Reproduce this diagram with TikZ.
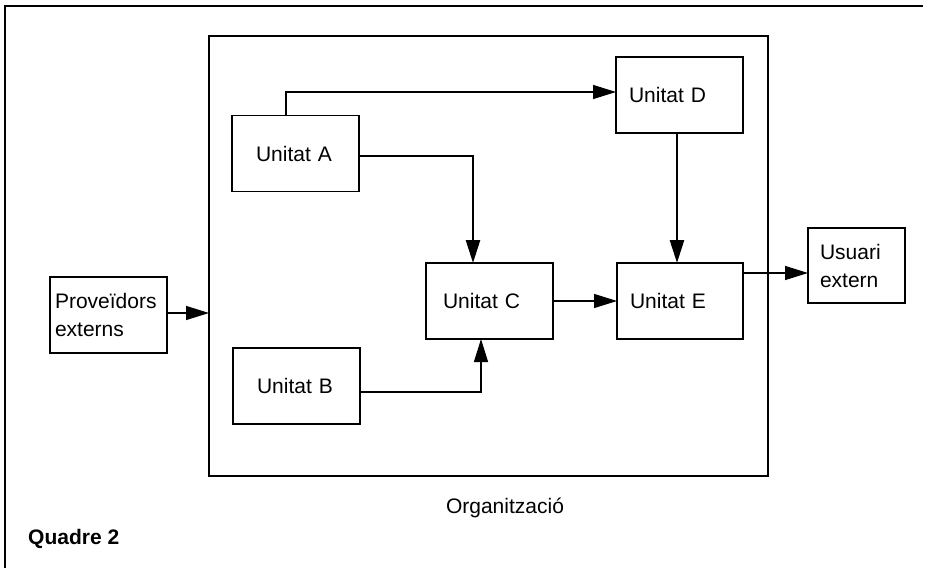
\documentclass[tikz,border=0pt]{standalone}
\usepackage{fontspec}
\setmainfont{Liberation Sans}
\usetikzlibrary{arrows.meta}
\begin{document}
\begin{tikzpicture}[x=1pt,y=-1pt,
  unit/.style={draw, line width=1.4pt, align=left, font=\fontsize{21}{28}\selectfont,
    inner ysep=0pt, outer sep=0pt, minimum height=76pt},
  lbl/.style={font=\fontsize{21}{28}\selectfont, inner sep=0pt},
  arr/.style={line width=1.3pt, -{Triangle[length=23pt,width=14pt]}},
  arrthick/.style={line width=2.6pt, -{Triangle[length=23pt,width=14pt]}}]
\useasboundingbox (0,0) rectangle (938,570);
% outer frame
\draw[line width=1.4pt] (923,6) -- (5,6) -- (5,568);
% organisation box
\node[draw, line width=1.8pt, minimum width=559pt, minimum height=440pt, inner sep=0pt, outer sep=0pt] (org) at (488.5,256) {};
% units
\node[unit, minimum width=127pt, inner xsep=24pt, text width=79pt] (A) at (295.5,153.5) {Unitat A};
\node[unit, minimum width=127pt, inner xsep=24pt, text width=79pt] (B) at (296.5,386) {Unitat B};
\node[unit, minimum width=127pt, inner xsep=17pt, text width=93pt] (C) at (489.5,301) {Unitat C};
\node[unit, minimum width=127pt, inner xsep=13pt, text width=101pt] (D) at (679.5,95) {Unitat D};
\node[unit, minimum width=126pt, inner xsep=13pt, text width=100pt] (E) at (680,301) {Unitat E};
\node[unit, minimum width=117pt, inner xsep=5pt, text width=107pt] (P) at (108.5,315) {Proveïdors\\externs};
\node[unit, minimum width=97pt, minimum height=75pt, inner xsep=12pt, text width=73pt] (U) at (856.5,265.5) {Usuari\\extern\\[-12pt]};
% labels
\node[lbl] (orglbl) at (505,508) {Organització};
\node[lbl, anchor=west, font=\fontsize{21}{28}\selectfont\bfseries] (q2) at (28,539) {Quadre 2};
% connectors
\draw[arr] ([xshift=54pt]A.north west) |- ([yshift=3pt]D.west);
\draw[arrthick] ([yshift=-2.5pt]A.east) -| ([xshift=-16.5pt]C.north);
\draw[arr] ([yshift=-6pt]B.east) -| ([xshift=-8.5pt]C.south);
\draw[arr] (C.east) -- (E.west);
\draw[arrthick] ([xshift=-2.5pt]D.south) coordinate (d1) -- (d1 |- E.north);
\draw[arr] ([yshift=28pt]E.east) coordinate (e1) -- (e1 -| U.west);
\draw[arr] ([yshift=2pt]P.east) coordinate (p1) -- (p1 -| org.west);
\end{tikzpicture}
\end{document}
